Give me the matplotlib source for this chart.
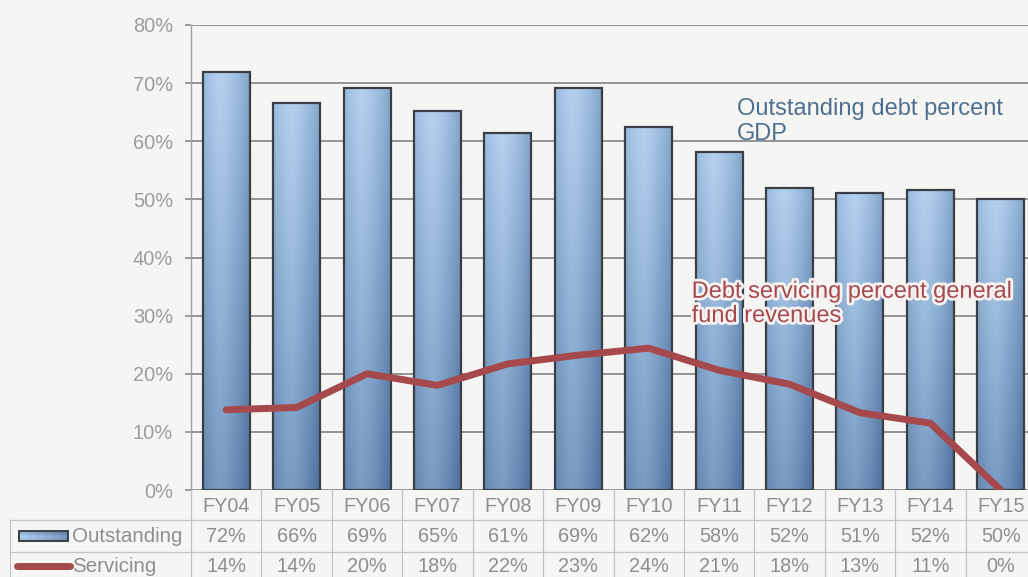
import numpy as np
import matplotlib.pyplot as plt
import matplotlib.patheffects as pe
from matplotlib.patches import Rectangle
from matplotlib.transforms import blended_transform_factory

# Outstanding debt (% of GDP) and debt servicing (% of general fund revenues)
years = ["FY04", "FY05", "FY06", "FY07", "FY08", "FY09",
         "FY10", "FY11", "FY12", "FY13", "FY14", "FY15"]
outstanding = [71.9, 66.5, 69.1, 65.2, 61.5, 69.2, 62.5, 58.2, 52.0, 51.1, 51.6, 50.1]
servicing = [13.8, 14.2, 20.0, 18.0, 21.7, 23.2, 24.4, 20.6, 18.2, 13.3, 11.5, 0.0]
outstanding_labels = ["72%", "66%", "69%", "65%", "61%", "69%", "62%", "58%", "52%", "51%", "52%", "50%"]
servicing_labels = ["14%", "14%", "20%", "18%", "22%", "23%", "24%", "21%", "18%", "13%", "11%", "0%"]

W, H = 1028, 577
BG = "#f5f5f4"
GRID = "#8c8c8c"
TABLE_LINE = "#c4c4c4"
TEXT = "#8e8e8e"
LINE_RED = "#a5494d"
BLUE_TXT = "#4f6f8f"
FONT = "Liberation Sans"

plt.rcParams["font.family"] = [FONT, "DejaVu Sans"]

fig = plt.figure(figsize=(W / 100, H / 100), dpi=100, facecolor=BG)
ax = fig.add_axes([191 / W, 1 - 490 / H, 845 / W, 465 / H])
ax.set_facecolor(BG)

n = len(years)
x = np.arange(n)
ax.set_xlim(-0.5, n - 0.5)
ax.set_ylim(0, 80)

# gridlines
for v in range(0, 90, 10):
    ax.axhline(v, color=GRID, lw=1.3, zorder=1)

# shaded bars: lighter at the top, darker toward the base, cylinder-like across
light = np.array([0.70, 0.82, 0.94])
dark = np.array([0.30, 0.44, 0.62])


def bar_shade(rows=80, cols=40):
    u = np.linspace(0, 1, cols)
    v = np.linspace(0, 1, rows)[:, None]          # 0 = top, 1 = bottom
    h = np.clip(np.abs(u - 0.38) / 0.62, 0, 1) ** 1.4
    s = np.clip(0.55 * v + 0.45 * h, 0, 1)[..., None]
    return light * (1 - s) + dark * s


shade = bar_shade()
bw = 0.667
for xi, val in zip(x, outstanding):
    ax.imshow(shade, extent=[xi - bw / 2, xi + bw / 2, 0, val],
              aspect="auto", zorder=2, interpolation="bilinear")
    ax.add_patch(Rectangle((xi - bw / 2, 0), bw, val, fill=False,
                           ec="#3a3f46", lw=1.6, zorder=3))
ax.set_xlim(-0.5, n - 0.5)
ax.set_ylim(0, 80)

# servicing line
ax.plot(x, servicing, color=LINE_RED, lw=5, solid_joinstyle="round",
        solid_capstyle="round", zorder=4)

# axes styling
for s in ["top", "right", "bottom"]:
    ax.spines[s].set_visible(False)
ax.spines["left"].set_color("#a0a0a0")
ax.spines["left"].set_linewidth(1.0)
ax.set_xticks([])
ax.set_yticks(range(0, 90, 10))
ax.set_yticklabels([f"{v}%" for v in range(0, 90, 10)])
ax.tick_params(axis="y", length=4, width=1.2, color=GRID, pad=9,
               labelsize=14.4, labelcolor="#9c9c9c")

# series annotations
ax.text(7.25, 67.4, "Outstanding debt percent\nGDP", color=BLUE_TXT,
        fontsize=17, ha="left", va="top", linespacing=1.17, zorder=5)
ax.text(6.61, 36.0, "Debt servicing percent general\nfund revenues", color=LINE_RED,
        fontsize=17, ha="left", va="top", linespacing=1.13, zorder=5,
        path_effects=[pe.withStroke(linewidth=4, foreground="#f7f2f2")])

# data table under the chart
tr = blended_transform_factory(ax.transData, fig.transFigure)
fy = lambda p: 1 - p / H
fx = lambda p: p / W

for b in np.arange(-0.5, n, 1.0):
    fig.add_artist(plt.Line2D([b, b], [fy(490), 0], transform=tr,
                              color=TABLE_LINE, lw=0.9))
for p in (520, 552):
    fig.add_artist(plt.Line2D([fx(10), 1], [fy(p), fy(p)], transform=fig.transFigure,
                              color=TABLE_LINE, lw=0.9))
fig.add_artist(plt.Line2D([fx(10), fx(10)], [fy(520), 0], transform=fig.transFigure,
                          color=TABLE_LINE, lw=0.9))

for xi, yr, o, s in zip(x, years, outstanding_labels, servicing_labels):
    ax.text(xi, fy(506), yr, transform=tr, ha="center", va="center",
            fontsize=14.3, color=TEXT)
    ax.text(xi, fy(537), o, transform=tr, ha="center", va="center",
            fontsize=14.3, color=TEXT)
    ax.text(xi, fy(567), s, transform=tr, ha="center", va="center",
            fontsize=14.3, color=TEXT)

fig.text(fx(72), fy(537), "Outstanding", ha="left", va="center", fontsize=14.8, color=TEXT)
fig.text(fx(72), fy(567), "Servicing", ha="left", va="center", fontsize=14.8, color=TEXT)

# legend keys in the table
key_ax = fig.add_axes([0, 0, 1, 1], facecolor="none")
key_ax.set_xlim(0, W)
key_ax.set_ylim(H, 0)
key_ax.axis("off")
key_ax.imshow(np.transpose(shade, (1, 0, 2))[::-1], extent=[19, 68, 541, 531],
              aspect="auto", interpolation="bilinear")
key_ax.add_patch(Rectangle((19, 531), 49, 10, fill=False, ec="#3a3f46", lw=1.4))
key_ax.plot([17, 70], [566, 566], color=LINE_RED, lw=5, solid_capstyle="round")
key_ax.set_xlim(0, W)
key_ax.set_ylim(H, 0)

fig.savefig("out.png", dpi=100, facecolor=BG)
